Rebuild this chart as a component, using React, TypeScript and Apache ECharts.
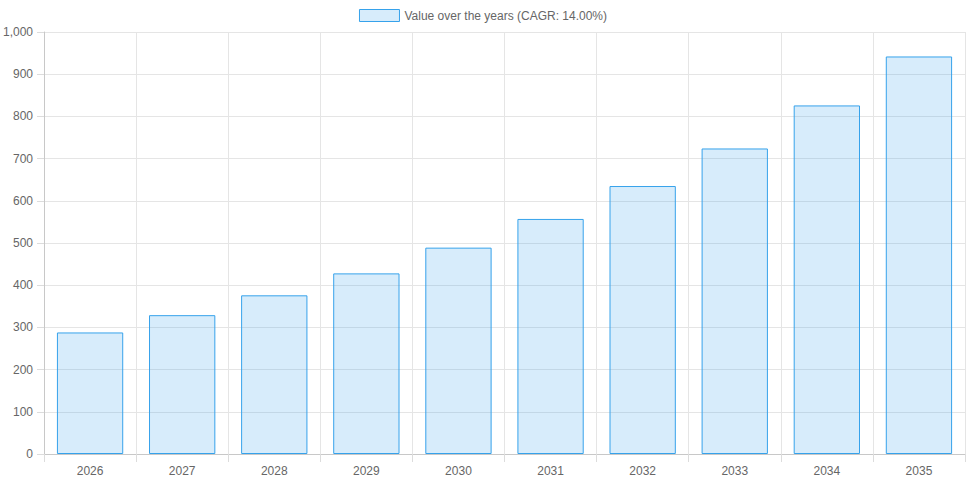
import React, { useEffect, useRef } from "react";
import * as echarts from "echarts";

const years = ["2026", "2027", "2028", "2029", "2030", "2031", "2032", "2033", "2034", "2035"];
const values = [288, 329, 376, 428, 489, 557, 635, 724, 826, 942];
const seriesName = "Value over the years (CAGR: 14.00%)";
const yTicks = { min: 0, max: 1000, interval: 100 };

const FONT = "'Liberation Sans', Arial, Helvetica, sans-serif";

export default function App() {
  const ref = useRef<HTMLDivElement>(null);
  useEffect(() => {
    if (!ref.current) return;
    const chart = echarts.init(ref.current, undefined, { renderer: "svg" });
    chart.setOption({
      animation: false,
      textStyle: { fontFamily: FONT },
      legend: {
        top: 4,
        left: "center",
        itemWidth: 40,
        itemHeight: 12,
        itemGap: 10,
        icon: "rect",
        itemStyle: {
          color: "rgba(54,162,235,0.2)",
          borderColor: "rgb(54,162,235)",
          borderWidth: 1,
        },
        textStyle: { color: "#666", fontSize: 12, fontFamily: FONT },
        data: [seriesName],
      },
      grid: { left: 44, right: 1, top: 32, bottom: 29, containLabel: false },
      xAxis: {
        type: "category",
        data: years,
        boundaryGap: true,
        axisLine: { show: true, lineStyle: { color: "#c8c8c8", width: 1 } },
        axisTick: { show: true, length: 8, lineStyle: { color: "#dcdcdc" } },
        axisLabel: { color: "#666", fontSize: 12, fontFamily: FONT, margin: 11 },
        splitLine: { show: true, lineStyle: { color: "#e5e5e5", width: 1 } },
      },
      yAxis: {
        type: "value",
        min: yTicks.min,
        max: yTicks.max,
        interval: yTicks.interval,
        axisLine: { show: true, lineStyle: { color: "#c8c8c8", width: 1 } },
        axisTick: { show: true, length: 7, lineStyle: { color: "#dcdcdc" } },
        axisLabel: {
          color: "#666",
          fontSize: 12,
          fontFamily: FONT,
          margin: 11,
          formatter: (v: number) => v.toLocaleString("en-US"),
        },
        splitLine: { show: true, lineStyle: { color: "#e5e5e5", width: 1 } },
      },
      series: [
        {
          name: seriesName,
          type: "bar",
          data: values,
          barWidth: "72%",
          itemStyle: {
            color: "rgba(54,162,235,0.2)",
            borderColor: "rgb(54,162,235)",
            borderWidth: 1,
          },
          emphasis: { disabled: true },
        },
      ],
    });
    return () => chart.dispose();
  }, []);
  return (
    <div
      ref={ref}
      style={{ position: "fixed", left: 0, top: 0, width: 966, height: 483, background: "#fff" }}
    />
  );
}
